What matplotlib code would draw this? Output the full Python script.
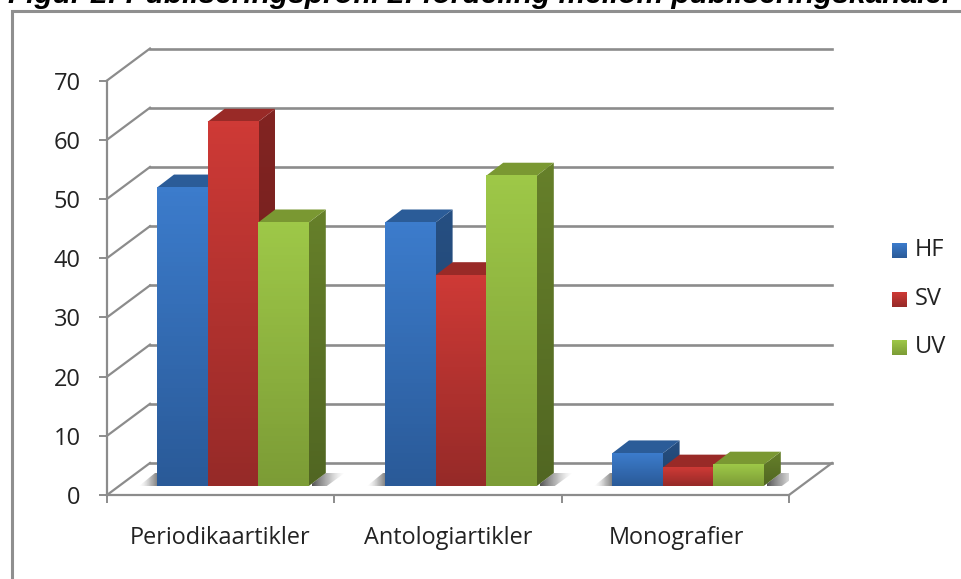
import numpy as np
import matplotlib
matplotlib.use("Agg")
import matplotlib.pyplot as plt
from matplotlib.patches import Polygon, Rectangle

categories = ["Periodikaartikler", "Antologiartikler", "Monografier"]
HF = [50.4, 44.5, 5.5]
SV = [61.5, 35.6, 3.1]
UV = [44.5, 52.4, 3.6]
yticks = [0, 10, 20, 30, 40, 50, 60, 70]
title = "Figur 2: Publiseringsprofil 2: fordeling mellom publiseringskanaler"

W, H = 962, 579
grey = "#8c8c8c"
font = "Open Sans"

# name: front top, front bottom, top face, side top, side bottom
colors = {
    "HF": ("#3c7ccc", "#2a5a98", "#2b5c98", "#264f82", "#1f4269"),
    "SV": ("#ce3a36", "#962a28", "#992a27", "#822422", "#6a1d1b"),
    "UV": ("#9ec848", "#7c9c36", "#7a9832", "#66802a", "#516622"),
}
series = [("HF", HF), ("SV", SV), ("UV", UV)]

fig = plt.figure(figsize=(W / 100, H / 100), dpi=100)
# x 0..3 is 107..789 px, y 0..70 is 495..80.5 px
ax = fig.add_axes([107 / W, 1 - 495 / H, 682 / W, 414.5 / H])
ax.set_xlim(0, 3)
ax.set_ylim(0, 70)
ax.patch.set_visible(False)

xpx = 682 / 3
ypx = 414.5 / 70
wall_dx, wall_dy = 43 / xpx, 32 / ypx
bar_w = 50.6 / xpx
depth_dx, depth_dy = 17 / xpx, 13 / ypx
base_dy = 9 / ypx
first_bar = [50 / xpx, 278 / xpx, 505 / xpx]

# outer frame of the pasted chart, cut by the picture edge
fig.add_artist(Rectangle((11.5 / W, -0.1), 1.1, 1.1 - 10.5 / H, transform=fig.transFigure,
                         fill=False, ec="#8f8f8f", lw=2.2))

for v in yticks:
    ax.plot([0, wall_dx], [v, v + wall_dy], color=grey, lw=1.6, clip_on=False, zorder=1)
    ax.plot([wall_dx, 3 + wall_dx], [v + wall_dy, v + wall_dy], color=grey, lw=1.9,
            clip_on=False, zorder=1)
ax.plot([3, 3 + wall_dx], [0, wall_dy], color=grey, lw=1.6, clip_on=False, zorder=1)

grad = np.linspace(0, 1, 64).reshape(-1, 1)

def vgrad(c_top, c_bot):
    return matplotlib.colors.LinearSegmentedColormap.from_list("g", [c_top, c_bot])

sh = matplotlib.colors.LinearSegmentedColormap.from_list(
    "s", [(0.3, 0.3, 0.3, 0.95), (0.5, 0.5, 0.5, 0.55), (0.8, 0.8, 0.8, 0)])

for c in range(3):
    x0 = first_bar[c]
    xr = x0 + 3 * bar_w
    shadow_top = base_dy + depth_dy
    # floor shadow, right of the group
    im = ax.imshow(np.linspace(0, 1, 32).reshape(1, -1), cmap=sh, aspect="auto", zorder=2,
                   extent=(xr + 3 / xpx, xr + 36 / xpx, base_dy, shadow_top))
    im.set_clip_path(Polygon([(xr, base_dy), (xr + 18 / xpx, base_dy),
                              (xr + 36 / xpx, shadow_top), (xr + depth_dx, shadow_top)],
                             transform=ax.transData))
    # and left of it
    im = ax.imshow(np.linspace(1, 0, 32).reshape(1, -1), cmap=sh, aspect="auto", zorder=2,
                   extent=(x0 - 18 / xpx, x0 + 0.02, base_dy, shadow_top))
    im.set_clip_path(Polygon([(x0 - 18 / xpx, base_dy), (x0 + 0.02, base_dy),
                              (x0 + 0.02, shadow_top), (x0 - 2 / xpx, shadow_top)],
                             transform=ax.transData))
    for s, (name, vals) in enumerate(series):
        col = colors[name]
        left = x0 + s * bar_w
        right = left + bar_w
        v = vals[c]
        top = base_dy + v
        z = 3 + s * 0.1
        im = ax.imshow(grad, cmap=vgrad(col[3], col[4]), aspect="auto", zorder=z,
                       extent=(right, right + depth_dx, base_dy, top + depth_dy))
        im.set_clip_path(Polygon([(right, base_dy), (right + depth_dx, base_dy + depth_dy),
                                  (right + depth_dx, top + depth_dy), (right, top)],
                                 transform=ax.transData))
        ax.add_patch(Polygon([(left, top), (right, top), (right + depth_dx, top + depth_dy),
                              (left + depth_dx, top + depth_dy)], fc=col[2], ec="none",
                             zorder=z, clip_on=False))
        ax.imshow(grad, cmap=vgrad(col[0], col[1]), aspect="auto", zorder=z + 0.05, clip_on=False,
                  extent=(left, right, base_dy, top))

ax.set_xlim(0, 3)
ax.set_ylim(0, 70)

for side in ["top", "right"]:
    ax.spines[side].set_visible(False)
for side in ["left", "bottom"]:
    ax.spines[side].set_color(grey)
    ax.spines[side].set_linewidth(1.6)
    ax.spines[side].set_zorder(6)

ax.set_yticks(yticks)
ax.set_xticks([0, 1, 2, 3])
ax.set_xticklabels([])
ax.tick_params(axis="both", color=grey, width=1.4, length=6, labelsize=17, labelcolor="#222222")
ax.tick_params(axis="y", pad=13)
for lab in ax.get_yticklabels():
    lab.set_fontfamily(font)

label_x = [220, 448, 676]
for lx, name in zip(label_x, categories):
    fig.text(lx / W, 1 - 538 / H, name, ha="center", va="center", family=font,
             fontsize=16.9, color="#222222")

for (name, vals), ypos in zip(series, [250, 299, 347]):
    col = colors[name]
    lax = fig.add_axes([892 / W, 1 - (ypos + 8) / H, 15 / W, 15 / H])
    lax.imshow(grad, cmap=vgrad(col[0], col[1]), aspect="auto")
    lax.axis("off")
    fig.text(915 / W, 1 - ypos / H, name, va="center", family=font, fontsize=17, color="#222222")

# the reference has this line cut by the top edge of the picture
fig.text(8 / W, 1 - 3 / H, title, ha="left", va="baseline", family="Liberation Sans",
         fontweight="bold", fontstyle="italic", fontsize=21.5, color="black")

fig.savefig("out.png", dpi=100)
